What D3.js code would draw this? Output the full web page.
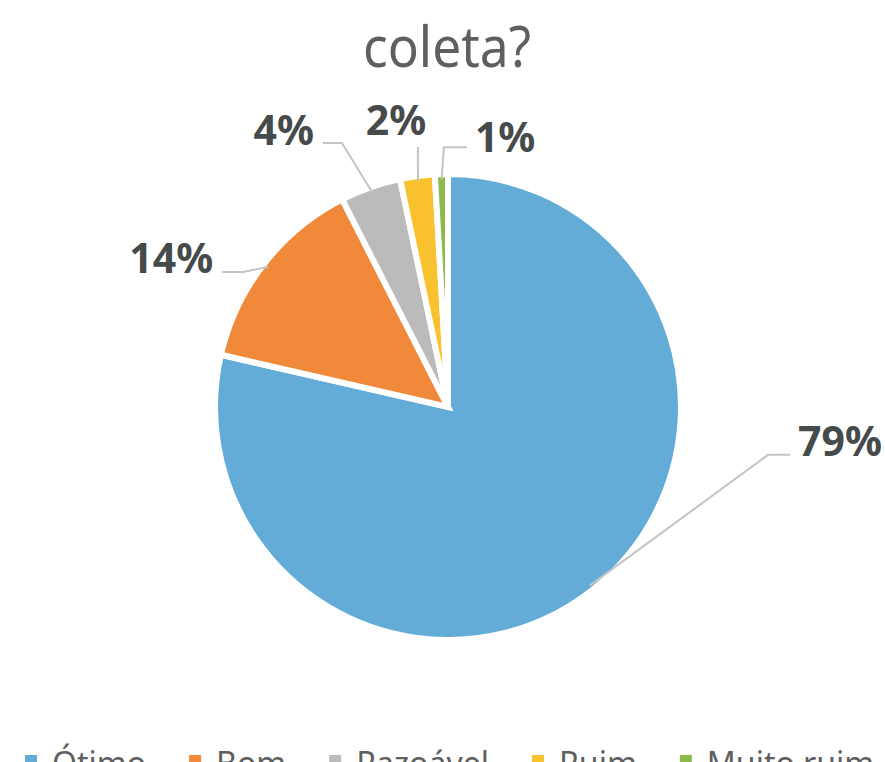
<!DOCTYPE html>
<html>
<head>
<meta charset="utf-8">
<script src="https://cdn.jsdelivr.net/npm/d3@7"></script>
<style>
  body { margin: 0; background: #fff; }
  text { font-family: "Noto Sans", "Open Sans", sans-serif; }
</style>
</head>
<body>
<div id="chart"></div>
<script>

var categories = ["Ótimo", "Bom", "Razoável", "Ruim", "Muito ruim"];
var values = [78.6, 13.9, 4.2, 2.4, 0.9];
var colors = ["#64acd8", "#f08a3a", "#bbbbbb", "#fac12e", "#8db94a"];
var title = "coleta?";

// where the leader lines bend (polar, relative to the pie)
var leaderLayout = [
    {angle: 98.5, rad: 1.407, seg: 22, side: "right", dy: 1},
    {angle: 303.4, rad: 1.067, seg: 21, side: "left", dy: 1},
    {angle: 338.1, rad: 1.237, seg: 19, side: "left", dy: 2},
    {angle: 353.4, rad: 1.138, seg: 0, side: "top", dy: -12},
    {angle: 359.1, rad: 1.13, seg: 23, side: "right", dy: 5}
];

var width = 885, height = 762;
var cx = 448, cy = 407, r = 230;

var svg = d3.select("#chart").append("svg")
    .attr("width", width)
    .attr("height", height);

svg.append("text")
    .attr("x", 447)
    .attr("y", 67)
    .attr("text-anchor", "middle")
    .attr("font-size", 57)
    .attr("textLength", 168)
    .attr("lengthAdjust", "spacingAndGlyphs")
    .attr("fill", "#5f5f5f")
    .text(title);

var pie = d3.pie().sort(null).value(function (d) { return d; });
var arcs = pie(values);
var total = d3.sum(values);
var pct = d3.format(".0%");

var arc = d3.arc().innerRadius(0).outerRadius(r + 3);

var g = svg.append("g").attr("transform", "translate(" + cx + "," + cy + ")");

g.selectAll("path.slice")
    .data(arcs)
    .enter()
    .append("path")
    .attr("class", "slice")
    .attr("d", arc)
    .attr("fill", function (d, i) { return colors[i]; })
    .attr("stroke", "#fff")
    .attr("stroke-width", 6)
    .attr("stroke-linejoin", "miter");

function polar(angleDeg, rad) {
    var a = angleDeg * Math.PI / 180;
    return [rad * Math.sin(a), -rad * Math.cos(a)];
}

// leaders + labels
arcs.forEach(function (d, i) {
    var L = leaderLayout[i];
    var mid = (d.startAngle + d.endAngle) / 2 * 180 / Math.PI;
    var anchor = polar(mid, r - 2);
    var elbow = polar(L.angle, r * L.rad);
    var pts = [anchor, elbow];
    var tx, ty, ta;
    if (L.side === "right") {
        pts.push([elbow[0] + L.seg, elbow[1]]);
        tx = elbow[0] + L.seg + 8; ty = elbow[1] + L.dy; ta = "start";
    } else if (L.side === "left") {
        pts.push([elbow[0] - L.seg, elbow[1]]);
        tx = elbow[0] - L.seg - 9; ty = elbow[1] + L.dy; ta = "end";
    } else {
        tx = elbow[0] - 22; ty = elbow[1] + L.dy; ta = "middle";
    }

    g.append("path")
        .attr("d", d3.line()(pts))
        .attr("fill", "none")
        .attr("stroke", "#c4c4c4")
        .attr("stroke-width", 2);

    g.append("text")
        .attr("x", tx)
        .attr("y", ty)
        .attr("text-anchor", ta)
        .attr("font-size", 41)
        .attr("font-weight", "bold")
        .attr("fill", "#454a4b")
        .text(pct(values[i] / total));
});

// legend (the bottom edge of the picture cuts it, as in the original)
var legend = svg.append("g").attr("class", "legend");
var x = 0;
categories.forEach(function (c, i) {
    var item = legend.append("g").attr("transform", "translate(" + x + ",0)");
    item.append("rect")
        .attr("x", 0)
        .attr("y", 755)
        .attr("width", 12)
        .attr("height", 12)
        .attr("fill", colors[i]);
    var t = item.append("text")
        .attr("x", 27)
        .attr("y", 775)
        .attr("font-size", 32)
        .attr("fill", "#5f5f5f")
        .text(c);
    x += 27 + t.node().getComputedTextLength() + 43;
});
legend.attr("transform", "translate(25,0)");

</script>
</body>
</html>
